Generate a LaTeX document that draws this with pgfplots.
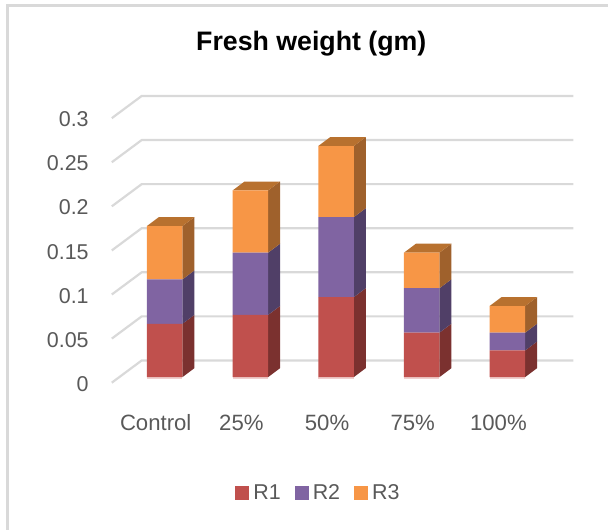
\documentclass[border=0pt]{standalone}
\usepackage{pgfplots}
\usepackage{pgfplotstable}
\usepackage{fontspec}
\setmainfont{Liberation Sans}
\pgfplotsset{compat=1.18}

\definecolor{txt}{HTML}{595959}
\definecolor{gridc}{HTML}{D9D9D9}
\definecolor{rone}{HTML}{C0504D}
\definecolor{rtwo}{HTML}{8064A2}
\definecolor{rthree}{HTML}{F79646}
\definecolor{rones}{HTML}{7B312F}
\definecolor{rtwos}{HTML}{503F67}
\definecolor{rthrees}{HTML}{9F612C}
\definecolor{rthreet}{HTML}{B8712F}
\definecolor{rfloor}{HTML}{F0CFCE}

% one value per group, in chart order
\pgfplotstableread{
x r1 r2 r3
0 0.06 0.05 0.06
1 0.07 0.07 0.07
2 0.09 0.09 0.08
3 0.05 0.05 0.04
4 0.03 0.02 0.03
}\fresh

% x is in category units: 85.9 px per group, Control front centre at px 165
\pgfplotsset{
  canvas/.style={
    scale only axis, width=609pt, height=531pt,
    at={(0,0)}, anchor=south west, clip=false,
    xmin=-1.9208, xmax=5.1688,
    axis line style={draw=none},
    major tick length=0pt,
    xtick=\empty, ytick=\empty,
    /pgf/number format/assume math mode=true,
    tick label style={font=\fontsize{21.5}{24}\selectfont, text=txt},
  },
  bars/.style={canvas, ymin=-0.17172, ymax=0.42424},
  grid line/.style={draw=gridc, line width=2.2pt, mark=none, forget plot},
}

% side wall of one stacked segment: centre, low, high, colour
\newcommand{\sideface}[4]{%
  \pgfmathsetmacro\xa{#1+0.2075}%
  \pgfmathsetmacro\xb{#1+0.3475}%
  \pgfmathsetmacro\ya{#2+0.0101}%
  \pgfmathsetmacro\yb{#3+0.0101}%
  \edef\temp{\noexpand\addplot[draw=none, fill=#4, mark=none, forget plot]
    coordinates {(\xa,#2) (\xb,\ya) (\xb,\yb) (\xa,#3)} -- cycle;}\temp}
% top of a bar: centre, height
\newcommand{\topface}[2]{%
  \pgfmathsetmacro\xl{#1-0.2075}%
  \pgfmathsetmacro\xa{#1+0.2075}%
  \pgfmathsetmacro\xc{#1-0.0675}%
  \pgfmathsetmacro\xb{#1+0.3475}%
  \pgfmathsetmacro\yb{#2+0.0101}%
  \edef\temp{\noexpand\addplot[draw=none, fill=rthreet, mark=none, forget plot]
    coordinates {(\xl,#2) (\xa,#2) (\xb,\yb) (\xc,\yb)} -- cycle;}\temp}

\begin{document}
\begin{tikzpicture}
% back wall: gridlines and value labels
\begin{axis}[canvas,
    ymin=-0.19197, ymax=0.40871,
    ytick={0,0.05,0.1,0.15,0.2,0.25,0.3},
    yticklabels={0,0.05,0.1,0.15,0.2,0.25,0.3},
    yticklabel style={inner sep=0pt, anchor=east, xshift=89pt, yshift=-23.5pt},
    title={Fresh weight (gm)},
    title style={at={(rel axis cs:0.5123,0.9058)}, anchor=center,
      font=\fontsize{26.8}{30}\selectfont\bfseries, text=black},
  ]
  \addplot[draw=gridc, line width=3pt, mark=none, forget plot]
    coordinates {(-1.8335,-0.19197) (-1.8335,0.40305) (5.1688,0.40305)};
  \addplot[grid line] coordinates {(-0.6170,-0.0252) (-0.2678,0) (4.7707,0)};
  \addplot[grid line] coordinates {(-0.6170,0.0248) (-0.2678,0.05) (4.7707,0.05)};
  \addplot[grid line] coordinates {(-0.6170,0.0748) (-0.2678,0.1) (4.7707,0.1)};
  \addplot[grid line] coordinates {(-0.6170,0.1248) (-0.2678,0.15) (4.7707,0.15)};
  \addplot[grid line] coordinates {(-0.6170,0.1748) (-0.2678,0.2) (4.7707,0.2)};
  \addplot[grid line] coordinates {(-0.6170,0.2248) (-0.2678,0.25) (4.7707,0.25)};
  \addplot[grid line] coordinates {(-0.6170,0.2748) (-0.2678,0.3) (4.7707,0.3)};
\end{axis}
% side walls and tops
\begin{axis}[bars]
  \sideface{0}{0}{0.06}{rones}\sideface{0}{0.06}{0.11}{rtwos}\sideface{0}{0.11}{0.17}{rthrees}\topface{0}{0.17}
  \sideface{1}{0}{0.07}{rones}\sideface{1}{0.07}{0.14}{rtwos}\sideface{1}{0.14}{0.21}{rthrees}\topface{1}{0.21}
  \sideface{2}{0}{0.09}{rones}\sideface{2}{0.09}{0.18}{rtwos}\sideface{2}{0.18}{0.26}{rthrees}\topface{2}{0.26}
  \sideface{3}{0}{0.05}{rones}\sideface{3}{0.05}{0.10}{rtwos}\sideface{3}{0.10}{0.14}{rthrees}\topface{3}{0.14}
  \sideface{4}{0}{0.03}{rones}\sideface{4}{0.03}{0.05}{rtwos}\sideface{4}{0.05}{0.08}{rthrees}\topface{4}{0.08}
  % pale edge under each front face
  \addplot[draw=rfloor, line width=1.5pt, mark=none, forget plot, unbounded coords=jump] coordinates {
    (-0.2075,-0.0012) (0.2075,-0.0012) (0.5,nan)
    (0.7925,-0.0012) (1.2075,-0.0012) (1.5,nan)
    (1.7925,-0.0012) (2.2075,-0.0012) (2.5,nan)
    (2.7925,-0.0012) (3.2075,-0.0012) (3.5,nan)
    (3.7925,-0.0012) (4.2075,-0.0012)};
\end{axis}
% front faces, category labels, legend
\begin{axis}[bars,
    ybar stacked, bar width=35.6pt,
    xtick={0,1,2,3,4},
    xticklabels={Control,25\%,50\%,75\%,100\%},
    xticklabel style={font=\fontsize{22.2}{26}\selectfont, anchor=base, xshift=-9pt, yshift=99.5pt},
    legend columns=3,
    legend style={draw=none, fill=none, at={(rel axis cs:0.3875,0.0697)}, anchor=west,
      font=\fontsize{21.5}{24}\selectfont, text=txt, inner sep=0pt, outer sep=0pt,
      /tikz/column 1/.style={column sep=2pt},
      /tikz/column 2/.style={column sep=12pt},
      /tikz/column 3/.style={column sep=2pt},
      /tikz/column 4/.style={column sep=12pt},
      /tikz/column 5/.style={column sep=2pt}},
    legend image code/.code={\fill[#1] (0pt,-7pt) rectangle (14pt,7pt);},
  ]
  \addplot[fill=rone, draw=none] table [x=x, y=r1] {\fresh};
  \addplot[fill=rtwo, draw=none] table [x=x, y=r2] {\fresh};
  \addplot[fill=rthree, draw=none] table [x=x, y=r3] {\fresh};
  \legend{R1,R2,R3}
\end{axis}
\end{tikzpicture}
\end{document}
